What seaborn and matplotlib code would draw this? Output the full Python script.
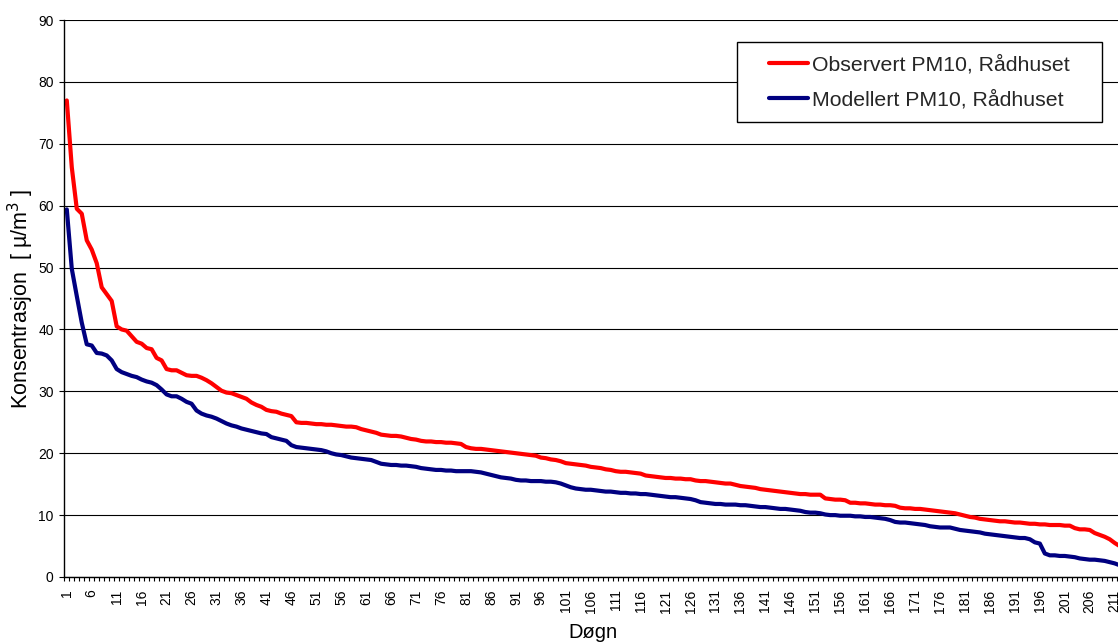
import numpy as np
import pandas as pd
import matplotlib
matplotlib.use("Agg")
import matplotlib.pyplot as plt
from matplotlib.patches import Rectangle
import seaborn as sns

# Sorted daily PM10 concentrations (duration curves), one value per day
observert = [
    77.0, 66.2, 59.5, 58.7, 54.4, 52.9, 50.7, 46.8, 45.7, 44.6,
    40.5, 40.0, 39.8, 38.9, 38.0, 37.7, 37.0, 36.8, 35.4, 35.0,
    33.6, 33.4, 33.4, 33.0, 32.6, 32.5, 32.5, 32.2, 31.8, 31.3,
    30.7, 30.1, 29.8, 29.7, 29.4, 29.1, 28.8, 28.2, 27.8, 27.5,
    27.0, 26.8, 26.7, 26.4, 26.2, 26.0, 25.0, 24.9, 24.9, 24.8,
    24.7, 24.7, 24.6, 24.6, 24.5, 24.4, 24.3, 24.3, 24.2, 23.9,
    23.7, 23.5, 23.3, 23.0, 22.9, 22.8, 22.8, 22.7, 22.5, 22.3,
    22.2, 22.0, 21.9, 21.9, 21.8, 21.8, 21.7, 21.7, 21.6, 21.5,
    21.0, 20.8, 20.7, 20.7, 20.6, 20.5, 20.4, 20.3, 20.2, 20.1,
    20.0, 19.9, 19.8, 19.7, 19.6, 19.3, 19.2, 19.0, 18.9, 18.7,
    18.4, 18.3, 18.2, 18.1, 18.0, 17.8, 17.7, 17.6, 17.4, 17.3,
    17.1, 17.0, 17.0, 16.9, 16.8, 16.7, 16.4, 16.3, 16.2, 16.1,
    16.0, 16.0, 15.9, 15.9, 15.8, 15.8, 15.6, 15.5, 15.5, 15.4,
    15.3, 15.2, 15.1, 15.1, 14.9, 14.7, 14.6, 14.5, 14.4, 14.2,
    14.1, 14.0, 13.9, 13.8, 13.7, 13.6, 13.5, 13.4, 13.4, 13.3,
    13.3, 13.3, 12.7, 12.6, 12.5, 12.5, 12.4, 12.0, 12.0, 11.9,
    11.9, 11.8, 11.7, 11.7, 11.6, 11.6, 11.5, 11.2, 11.1, 11.1,
    11.0, 11.0, 10.9, 10.8, 10.7, 10.6, 10.5, 10.4, 10.3, 10.1,
    9.9, 9.7, 9.6, 9.4, 9.3, 9.2, 9.1, 9.0, 9.0, 8.9,
    8.8, 8.8, 8.7, 8.6, 8.6, 8.5, 8.5, 8.4, 8.4, 8.4,
    8.3, 8.3, 7.9, 7.7, 7.7, 7.6, 7.1, 6.8, 6.5, 6.1, 5.5, 5.0,
]

modellert = [
    59.4, 49.8, 45.4, 41.1, 37.6, 37.4, 36.2, 36.1, 35.8, 35.0,
    33.6, 33.1, 32.8, 32.5, 32.3, 31.9, 31.6, 31.4, 31.0, 30.3,
    29.5, 29.2, 29.2, 28.8, 28.3, 28.0, 26.9, 26.4, 26.1, 25.9,
    25.6, 25.2, 24.8, 24.5, 24.3, 24.0, 23.8, 23.6, 23.4, 23.2,
    23.1, 22.6, 22.4, 22.2, 22.0, 21.3, 21.0, 20.9, 20.8, 20.7,
    20.6, 20.5, 20.3, 20.0, 19.8, 19.7, 19.5, 19.3, 19.2, 19.1,
    19.0, 18.9, 18.6, 18.3, 18.2, 18.1, 18.1, 18.0, 18.0, 17.9,
    17.8, 17.6, 17.5, 17.4, 17.3, 17.3, 17.2, 17.2, 17.1, 17.1,
    17.1, 17.1, 17.0, 16.9, 16.7, 16.5, 16.3, 16.1, 16.0, 15.9,
    15.7, 15.6, 15.6, 15.5, 15.5, 15.5, 15.4, 15.4, 15.3, 15.1,
    14.8, 14.5, 14.3, 14.2, 14.1, 14.1, 14.0, 13.9, 13.8, 13.8,
    13.7, 13.6, 13.6, 13.5, 13.5, 13.4, 13.4, 13.3, 13.2, 13.1,
    13.0, 12.9, 12.9, 12.8, 12.7, 12.6, 12.4, 12.1, 12.0, 11.9,
    11.8, 11.8, 11.7, 11.7, 11.7, 11.6, 11.6, 11.5, 11.4, 11.3,
    11.3, 11.2, 11.1, 11.0, 11.0, 10.9, 10.8, 10.7, 10.5, 10.4,
    10.4, 10.3, 10.1, 10.0, 10.0, 9.9, 9.9, 9.9, 9.8, 9.8,
    9.7, 9.7, 9.6, 9.5, 9.4, 9.2, 8.9, 8.8, 8.8, 8.7,
    8.6, 8.5, 8.4, 8.2, 8.1, 8.0, 8.0, 8.0, 7.8, 7.6,
    7.5, 7.4, 7.3, 7.2, 7.0, 6.9, 6.8, 6.7, 6.6, 6.5,
    6.4, 6.3, 6.3, 6.1, 5.6, 5.4, 3.8, 3.5, 3.5, 3.4,
    3.4, 3.3, 3.2, 3.0, 2.9, 2.8, 2.8, 2.7, 2.6, 2.4, 2.2, 1.9,
]

serie_navn = ["Observert PM10, Rådhuset", "Modellert PM10, Rådhuset"]
farger = ["#FF0000", "#000080"]
dogn = list(range(1, len(observert) + 1))
y_ticks = list(range(0, 100, 10))
x_labels = list(range(1, len(dogn) + 1, 5))

df = pd.DataFrame({
    "Døgn": dogn + dogn,
    "verdi": observert + modellert,
    "serie": [serie_navn[0]] * len(dogn) + [serie_navn[1]] * len(dogn),
})

sns.set_style("white")
plt.rcParams["font.family"] = ["Liberation Sans", "DejaVu Sans"]

W, H = 1118, 644
fig = plt.figure(figsize=(W / 100, H / 100), dpi=100)
n = len(dogn)
step = 4.99  # pixels per day on the category axis
ax = fig.add_axes([64.3 / W, 67 / H, n * step / W, 557 / H])

sns.lineplot(data=df, x="Døgn", y="verdi", hue="serie", hue_order=serie_navn,
             palette=farger, linewidth=3.0, ax=ax, legend=False,
             solid_joinstyle="round", solid_capstyle="round")

ax.set_xlim(0.5, n + 0.5)
ax.set_ylim(0, 90)

# horizontal gridlines
ax.set_yticks(y_ticks)
ax.yaxis.grid(True, color="black", linewidth=0.8)
ax.set_axisbelow(True)

# category axis: boundary tick marks, labels every fifth day
ax.set_xticks(x_labels)
ax.set_xticklabels([str(v) for v in x_labels], rotation=90, fontsize=10)
ax.set_xticks(np.arange(0.5, n + 1.0, 1.0), minor=True)
ax.tick_params(axis="x", which="major", length=0, pad=9, colors="black")
ax.tick_params(axis="x", which="minor", length=3, width=0.8, color="black",
               direction="out", bottom=True)
ax.tick_params(axis="y", length=3.6, width=0.8, color="black", direction="out",
               left=True, labelsize=10, pad=4, labelcolor="black")

for s in ["top", "right"]:
    ax.spines[s].set_visible(False)
for s in ["left", "bottom"]:
    ax.spines[s].set_color("black")
    ax.spines[s].set_linewidth(1.0)

ax.set_xlabel("Døgn", fontsize=14.5, color="black", labelpad=7)
ax.set_ylabel("Konsentrasjon  [ µ/m$^3$ ]", fontsize=15.5, color="black",
              labelpad=1.5)

# legend box (framed, white) with the entries centred inside it
ax_px_w = n * step
bx0 = (737 - 64.3) / ax_px_w
bx1 = (1102 - 64.3) / ax_px_w
by_top = (577 - 42) / 557
by_bot = (577 - 122) / 557
ax.add_patch(Rectangle((bx0, by_bot), bx1 - bx0, by_top - by_bot,
                       transform=ax.transAxes, facecolor="white",
                       edgecolor="black", linewidth=1.0, zorder=4.5,
                       clip_on=False))
handles = [plt.Line2D([], [], color=c, linewidth=3.0) for c in farger]
leg = ax.legend(handles, serie_navn, loc="center",
                bbox_to_anchor=((bx0 + bx1) / 2, (by_top + by_bot) / 2),
                fontsize=15.3, frameon=False, handlelength=1.85,
                handletextpad=0.2, labelspacing=0.72, borderpad=0.0)

fig.savefig("out.png", dpi=100)
